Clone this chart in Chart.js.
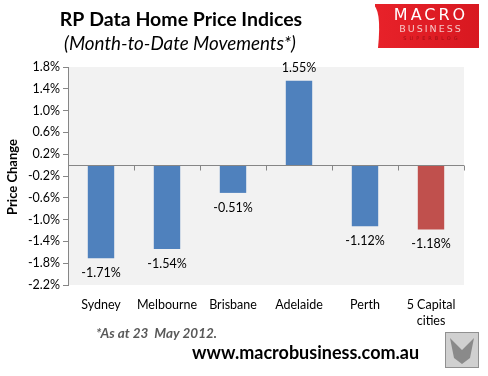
<!DOCTYPE html>
<html><head><meta charset="utf-8">
<script src="https://cdn.jsdelivr.net/npm/chart.js@4"></script>
<style>html,body{margin:0;padding:0;background:#fff}#wrap{width:488px;height:376px;position:relative}</style>
</head><body><div id="wrap"><canvas id="c" width="488" height="376"></canvas></div>
<script>
const categories = [["Sydney"],["Melbourne"],["Brisbane"],["Adelaide"],["Perth"],["5 Capital","cities"]];
const priceChange = [-1.71, -1.54, -0.51, 1.55, -1.12, -1.18];
const barColors = ["#4f81bd","#4f81bd","#4f81bd","#4f81bd","#4f81bd","#c0504d"];
const yTicks = [-2.2,-1.8,-1.4,-1.0,-0.6,-0.2,0.2,0.6,1.0,1.4,1.8];
const titleText = "RP Data Home Price Indices";
const subtitleText = "(Month-to-Date Movements*)";
const yTitle = "Price Change";
const footnote = "*As at 23  May 2012.";
const website = "www.macrobusiness.com.au";

const FONT = "Lato, 'Open Sans', sans-serif";

const extras = {
  id: 'extras',
  beforeDraw(chart) {
    const {ctx, chartArea: a} = chart;
    ctx.save();
    ctx.fillStyle = '#f2f2f2';
    ctx.fillRect(a.left, a.top, a.right - a.left, a.bottom - a.top);
    ctx.restore();
  },
  afterDatasetsDraw(chart) {
    const {ctx, chartArea: a, scales} = chart;
    const y0 = Math.round(scales.y.getPixelForValue(0)) + 0.5;
    ctx.save();
    ctx.strokeStyle = '#868686'; ctx.lineWidth = 1;
    ctx.beginPath(); ctx.moveTo(a.left, y0); ctx.lineTo(a.right, y0);
    for (let i = 0; i <= categories.length; i++) {
      const x = Math.round(a.left + (a.right - a.left) * i / categories.length) + 0.5;
      ctx.moveTo(x, y0); ctx.lineTo(x, y0 + 5);
    }
    ctx.stroke();
    // data labels
    ctx.fillStyle = '#000';
    ctx.font = "12.5px " + FONT;
    ctx.textAlign = 'center'; ctx.textBaseline = 'middle';
    const meta = chart.getDatasetMeta(0);
    meta.data.forEach((bar, i) => {
      const v = priceChange[i];
      const yy = v < 0 ? bar.y + 15 : bar.y - 13;
      ctx.fillText(v.toFixed(2) + '%', bar.x, yy);
    });
    // titles
    ctx.textAlign = 'center';
    ctx.font = "bold 19.5px " + FONT;
    ctx.fillText(titleText, 181, 20);
    ctx.font = "italic 18.8px " + FONT;
    ctx.fillText(subtitleText, 180, 44);
    // y title
    ctx.save();
    ctx.translate(13, 177); ctx.rotate(-Math.PI/2);
    ctx.font = "bold 13px " + FONT;
    ctx.fillText(yTitle, 0, 0);
    ctx.restore();
    // footnote & website
    ctx.textAlign = 'left';
    ctx.fillStyle = '#595959';
    ctx.font = "italic bold 13.5px " + FONT;
    ctx.fillText(footnote, 96, 334);
    ctx.fillStyle = '#000';
    ctx.font = "bold 18px " + FONT;
    ctx.fillText(website, 192, 353);
    // logo
    const g = ctx.createLinearGradient(372, 0, 479, 0);
    g.addColorStop(0, '#e8222a'); g.addColorStop(1, '#d81820');
    ctx.fillStyle = g;
    ctx.fillRect(375, 4, 104, 44);
    ctx.fillStyle = '#fff';
    ctx.beginPath(); ctx.moveTo(372, 4); ctx.quadraticCurveTo(382, 8, 378, 48); ctx.lineTo(372, 48); ctx.closePath(); ctx.fill();
    ctx.textAlign = 'center';
    ctx.fillStyle = '#fff';
    ctx.font = "16px 'DejaVu Sans', sans-serif";
    if (ctx.letterSpacing !== undefined) ctx.letterSpacing = '3px';
    ctx.fillText('MACRO', 431, 16);
    ctx.fillStyle = '#f6c8c8';
    ctx.font = "9.5px 'DejaVu Sans', sans-serif";
    if (ctx.letterSpacing !== undefined) ctx.letterSpacing = '2px';
    ctx.fillText('BUSINESS', 431, 30);
    ctx.fillStyle = '#a01015';
    ctx.font = "5px 'DejaVu Sans', sans-serif";
    if (ctx.letterSpacing !== undefined) ctx.letterSpacing = '3px';
    ctx.fillText('SUPERBLOG', 432, 39);
    if (ctx.letterSpacing !== undefined) ctx.letterSpacing = '0px';
    // wolf image placeholder
    ctx.fillStyle = '#d0d0d0';
    ctx.fillRect(445, 332, 34, 36);
    ctx.strokeStyle = '#909090'; ctx.lineWidth = 1;
    ctx.strokeRect(445.5, 332.5, 33, 35);
    ctx.fillStyle = '#8a8a8a';
    ctx.beginPath(); ctx.moveTo(450, 338); ctx.lineTo(462, 350); ctx.lineTo(474, 338); ctx.lineTo(470, 358); ctx.lineTo(462, 364); ctx.lineTo(454, 358); ctx.closePath(); ctx.fill();
    ctx.restore();
  }
};

new Chart(document.getElementById('c'), {
  type: 'bar',
  data: {
    labels: categories,
    datasets: [{ data: priceChange, backgroundColor: barColors, barPercentage: 0.4, categoryPercentage: 1.0 }]
  },
  options: {
    responsive: false, animation: false,
    layout: { padding: { top: 67, right: 24, left: 0, bottom: 0 } },
    plugins: { legend: { display: false }, tooltip: { enabled: false } },
    scales: {
      x: {
        grid: { display: false }, border: { display: false },
        ticks: { color: '#000', font: { family: FONT, size: 12.5, lineHeight: 1.3 }, padding: 4, maxRotation: 0, autoSkip: false },
        afterFit(s) { s.height = 91; }
      },
      y: {
        min: -2.2, max: 1.8,
        afterBuildTicks(s) { s.ticks = yTicks.map(v => ({ value: v })); },
        ticks: { color: '#000', font: { family: FONT, size: 12.5 }, padding: 3,
          callback: v => Number(v).toFixed(1) + '%' },
        grid: { drawOnChartArea: false, drawTicks: true, tickLength: 5, color: '#868686' },
        border: { display: true, color: '#868686' },
        afterFit(s) { s.width = 68; }
      }
    }
  },
  plugins: [extras]
});
</script></body></html>
